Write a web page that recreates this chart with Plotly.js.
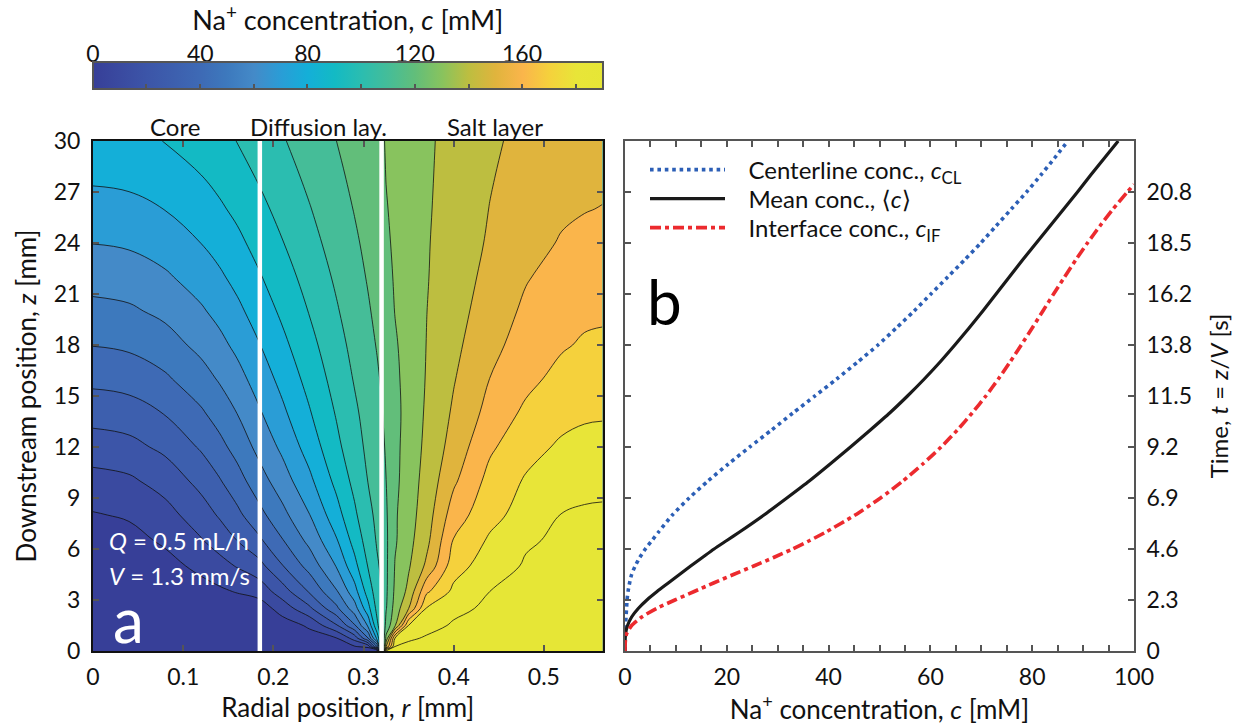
<!DOCTYPE html>
<html><head><meta charset="utf-8">
<script src="https://cdn.plot.ly/plotly-3.0.1.min.js"></script>
<style>html,body{margin:0;padding:0;background:#fff;} #chart{width:1248px;height:725px;}</style>
</head><body><div id="chart"></div>
<script>
// ---------- Panel a: concentration field c(r, z) [mM] ----------
const rPos = [0, 0.04, 0.08, 0.12, 0.14, 0.16, 0.185, 0.21, 0.24, 0.27, 0.29, 0.305, 0.315, 0.32, 0.325, 0.335, 0.35, 0.37, 0.40, 0.44, 0.48, 0.52, 0.545, 0.565];
const zPos = [0, 0.25, 0.75, 1.5, 2.5, 3.5, 5, 6.5, 8, 10, 12, 14, 16, 18, 20, 22, 24, 26, 28, 30];
const cGrid = [
  [0,0,0,0,0,0,0, 0,0,0,0,0,0, 96, 194,194,194,194,194,194,194,194,194,194],
  [0,0,0,0,0,0,0, 2.1,4.6,7.1,8.8,12.4,50, 99.5, 150,190.5,192.5,193.3,193.7,194,194,194,194,194],
  [0,0,0,0.05,0.06,0.08,0.1, 2.9,6.2,9.5,23.9,49.4,83.5, 103, 132.5,180.9,188.5,191,191.8,192.7,193.3,193.8,194,194],
  [0.1,0.14,0.27,0.48,0.62,0.77,1.0, 5.3,11.4,28.8,48.7,71.6,98, 106, 123.1,138.9,180.3,187,191,192.3,193.1,193.75,193.95,194],
  [0.3,0.5,1.2,2.3,3.0,3.8,5, 14.1,27.9,47.7,65.5,86.6,102.7, 108.5, 119.3,134.2,149.9,180.8,188,191.5,192.6,193.4,193.65,193.7],
  [0.65,1.27,3.15,6.27,8.3,10.64,14, 25.3,41,59,76.1,94.4,105.2, 110, 118.3,132,142.5,168.3,182.3,190,191.9,193,193.3,193.4],
  [2,3.17,6.68,12.5,16.3,20.7,27, 39.5,53.7,70.6,86.9,100.5,108.8, 111.5, 118.1,130.6,138.9,152,175.8,185.2,191,192.2,192.7,192.9],
  [5.3,6.85,11.5,19.3,24.3,30.1,38.5, 49.4,62.7,79.1,93.6,104.4,110.9, 112.8, 118.2,128.9,137,147.4,170.7,181.4,188.9,191.5,192.1,192.3],
  [9.3,11.07,16.4,25.3,31.0,37.6,47.2, 57.1,69.7,86.1,98.2,107.4,112.1, 114, 118.7,128.8,135.9,145.4,165,176.9,184,190.3,191.2,191.5],
  [16.5,18.3,23.9,33.1,39.1,46.0,56, 65.3,77.7,92.7,102.7,110.2,114.1, 116, 119.9,127.7,135.1,143.6,158.4,173.2,181,185.7,187.3,187.6],
  [25.2,27.0,32.3,41.2,47.0,53.6,63.2, 72.1,84.3,97.6,106,112.1,115.9, 117.8, 121,127.4,134.4,142.2,154,168.4,176.6,181.5,182.9,183.2],
  [33.9,35.5,40.5,48.7,54.1,60.2,69.1, 78,89.2,100.8,108.3,113.6,117, 119.4, 122.1,127,133.9,141.3,151.4,163.3,172,177,178.6,179],
  [42.5,44.0,48.5,56.0,60.9,66.5,74.6, 83,93.3,103.8,110.7,115.7,118.9, 120.8, 123.2,127.9,133.8,140.6,149.4,160.1,167.3,173.1,174.9,175.3],
  [50.3,51.7,55.8,62.7,67.2,72.4,79.8, 87.6,97,106.5,112.8,117.4,120.5, 122.1, 124.4,128.9,134.1,140.2,147.7,157,164.4,169,171.1,171.7],
  [57.2,58.5,62.3,68.8,72.9,77.8,84.7, 91.9,100.5,109.1,114.8,119.1,122, 123.4, 125.8,130.3,134.4,139.9,146.4,154.5,161.8,166.5,168.1,168.5],
  [63.8,65.0,68.6,74.5,78.4,82.9,89.3, 95.8,103.7,111.5,116.8,120.7,123.3, 124.6, 127.1,131,134.5,139.5,145.4,152.6,159.3,163.6,165.4,165.8],
  [70.2,71.3,74.6,80.1,83.6,87.7,93.6, 99.6,106.7,113.9,118.6,122.2,124.6, 125.8, 128.4,131.6,134.9,139.3,144.6,151.1,157,160.7,162.6,163],
  [76.2,77.2,80.2,85.2,88.5,92.2,97.6, 103,109.5,116,120.4,123.6,125.8, 126.9, 129.5,131.8,134.9,139,144,150.2,155.2,158.7,159.6,160.3],
  [81.8,82.7,85.4,90.0,93.0,96.4,101.3, 106.2,112.2,118.1,122.1,125,127, 128, 130.2,132.1,134.9,138.8,143.4,149.3,153.8,156.7,157.7,158.1],
  [86.9,87.7,90.2,94.4,97.1,100.2,104.7, 109.2,114.6,120,123.6,126.3,128.1, 129, 130.5,132.3,135,138.6,143,148.4,152.6,155,155.8,156]
];
const levelStart = 10, levelEnd = 190, levelStep = 10;
const colorMax = 190;
// colour of each 10 mM band (band k = 10k .. 10k+10)
const bandColors = ['#373f98','#3a4aa0','#3c55a8','#3d5fae','#3e6ab5','#3d79bd','#448ac8','#2a9dd6','#14afd8','#13bac4',
                    '#2bbdb0','#45bd98','#62be7a','#88c35e','#bdbe40','#e0b43d','#fab54b','#f5d13c','#e8e538','#e6e636'];
const layerBounds = [0.185, 0.32];
const layerNames = ['Core', 'Diffusion lay.', 'Salt layer'];
const layerLabelPos = [0.091, 0.250, 0.446];

// ---------- Panel b: concentrations vs downstream position ----------
const zLine = [0,0.5,1,1.5,2,2.5,3,3.5,4,4.5,5,5.5,6,6.5,7,8,9,10,11,12,13,14,15,16,17,18,19,20,21,22,23,24,25,26,27,28,29,30];
const cCenterline = [0,0,0.05,0.1,0.2,0.3,0.4,0.6,0.9,1.3,2.0,2.9,4.0,5.3,6.6,9.3,12.6,16.3,20.3,24.5,28.8,33.0,37.3,41.6,45.7,49.7,53.3,56.8,60.1,63.4,66.7,69.9,72.9,75.9,78.9,81.7,84.4,87.0];
const cMean = [0,0.02,0.1,0.5,1.3,2.6,4.3,6.3,8.5,10.7,12.9,15.2,17.5,20.0,22.5,27.3,31.8,36.2,40.3,44.3,48.2,52.0,55.5,58.8,61.9,64.8,67.6,70.3,72.9,75.5,78.1,80.8,83.5,86.2,88.9,91.5,94.2,96.9];
const zInterface = [0,0.5,1,1.5,2,2.5,3,3.5,4,4.5,5,5.5,6,6.5,7,8,9,10,11,12,13,14,15,16,17,18,19,20,21,22,23,24,25,26,27,27.45];
const cInterface = [0,0.05,0.3,1.3,3.3,6.2,9.8,13.6,17.4,21.3,25.3,29.2,32.9,36.3,39.5,45.2,50.2,54.6,58.5,62.1,65.3,68.2,70.9,73.35,75.65,77.85,80.0,82.1,84.2,86.35,88.55,90.85,93.3,95.9,98.7,100];

// ---------- tick labels ----------
const aXTicks = [0,0.1,0.2,0.3,0.4,0.5];
const aXTickText = ['0','0.1','0.2','0.3','0.4','0.5'];
const zTicks = [0,3,6,9,12,15,18,21,24,27,30];
const zTickText = ['0','3','6','9','12','15','18','21','24','27','30'];
const bXTicks = [0,20,40,60,80,100];
const bXTickText = ['0','20','40','60','80','100'];
const tTicks = [0,3,6,9,12,15,18,21,24,27];
const tTickText = ['0','2.3','4.6','6.9','9.2','11.5','13.8','16.2','18.5','20.8'];
const cbTicks = [0,40,80,120,160];

// ---------- geometry ----------
const W = 1248, H = 725, mL = 93, mR = 114, mT = 0, mB = 74;
const pw = W - mL - mR, ph = H - mT - mB;
const px2x = p => (p - mL) / pw;
const py2y = p => (H - mB - p) / ph;
const plotTop = 141, aRight = 602.5, bLeft = 625;
const yDom = [0, py2y(plotTop)];

const colorscale = bandColors.map((c, k) => [k / (bandColors.length - 1), c]);
const FONT = 'Lato, "Open Sans", "DejaVu Sans", sans-serif';
const FS = 23, FT = 26, FA = 24;
const NB = '\u00a0\u00a0\u00a0';

const traces = [
  { type: 'heatmap', x: rPos, y: zPos, z: cGrid, colorscale: colorscale, zmin: 0, zmax: colorMax,
    xaxis: 'x', yaxis: 'y', hoverinfo: 'skip', showscale: true,
    colorbar: { orientation: 'h', x: px2x((mL + aRight) / 2), xanchor: 'center', xref: 'paper',
      len: (aRight - mL) / pw, lenmode: 'fraction', thickness: 27, thicknessmode: 'pixels',
      y: py2y(97), yanchor: 'bottom', yref: 'paper', xpad: 0, ypad: 0,
      outlinewidth: 2, outlinecolor: '#555', ticks: 'inside', ticklen: 6, tickwidth: 2, tickcolor: '#555',
      tick0: 0, dtick: 20, showticklabels: false } },
  { type: 'contour', x: rPos, y: zPos, z: cGrid, colorscale: colorscale, showscale: false,
    contours: { start: levelStart, end: levelEnd, size: levelStep, coloring: 'fill' },
    line: { color: '#111', width: 0.8, smoothing: 1.1 }, xaxis: 'x', yaxis: 'y', hoverinfo: 'skip' },
  { type: 'scatter', mode: 'lines', x: cCenterline, y: zLine, xaxis: 'x2', yaxis: 'y2', cliponaxis: false,
    legend: 'legend', name: NB + 'Centerline conc., <i>c</i><sub>CL</sub>',
    line: { color: '#2c5fb6', width: 3.6, dash: '3.6px,3.8px', shape: 'spline', smoothing: 0.6 } },
  { type: 'scatter', mode: 'lines', x: cMean, y: zLine, xaxis: 'x2', yaxis: 'y2', cliponaxis: false,
    legend: 'legend2', name: NB + 'Mean conc., \u27E8<i>c</i>\u27E9',
    line: { color: '#1a1a1a', width: 3.2, shape: 'spline', smoothing: 0.6 } },
  { type: 'scatter', mode: 'lines', x: cInterface, y: zInterface, xaxis: 'x2', yaxis: 'y2', cliponaxis: false,
    legend: 'legend3', name: NB + 'Interface conc., <i>c</i><sub>IF</sub>',
    line: { color: '#ec2a2e', width: 3.6, dash: '11px,4px,4px,4px', shape: 'spline', smoothing: 0.6 } },
  { type: 'scatter', mode: 'markers', x: [], y: [], xaxis: 'x3', yaxis: 'y3', showlegend: false, hoverinfo: 'skip' }
];

const axCommon = { ticks: 'inside', ticklen: 6, tickwidth: 2, showline: true, mirror: 'ticks',
  showgrid: false, zeroline: false, fixedrange: true, tickfont: { size: FS, color: '#111' } };

const legendBase = { x: px2x(645), xanchor: 'left', yanchor: 'middle', bgcolor: 'rgba(0,0,0,0)',
  borderwidth: 0, itemwidth: 75, font: { size: FA, color: '#111' } };

const layout = {
  width: W, height: H, margin: { l: mL, r: mR, t: mT, b: mB }, paper_bgcolor: '#fff', plot_bgcolor: '#fff',
  font: { family: FONT, size: FS, color: '#111' }, showlegend: true,
  xaxis: Object.assign({}, axCommon, { domain: [0, px2x(aRight)], range: [0, 0.565], anchor: 'y',
    tickvals: aXTicks, ticktext: aXTickText, linecolor: '#111', linewidth: 2, tickcolor: '#555', ticklabelstandoff: 4,
    title: { text: 'Radial position, <i>r</i> [mm]', standoff: 10, font: { size: FT } } }),
  yaxis: Object.assign({}, axCommon, { domain: yDom, range: [0, 30], anchor: 'x',
    tickvals: zTicks, ticktext: zTickText, linecolor: '#111', linewidth: 2, tickcolor: '#555', ticklabelstandoff: 6,
    title: { text: 'Downstream position, <i>z</i> [mm]', standoff: 10, font: { size: FT } } }),
  xaxis2: Object.assign({}, axCommon, { domain: [px2x(bLeft), 1], range: [0, 100], anchor: 'y2',
    tickvals: bXTicks, ticktext: bXTickText, linecolor: '#555', linewidth: 2, tickcolor: '#555', ticklabelstandoff: 4,
    minor: { dtick: 5, tick0: 0, ticks: 'inside', ticklen: 6, tickwidth: 2, tickcolor: '#555', showgrid: false },
    title: { text: 'Na<sup>+</sup> concentration, <i>c</i> [mM]', standoff: 10, font: { size: FT } } }),
  yaxis2: Object.assign({}, axCommon, { domain: yDom, range: [0, 30], anchor: 'x2', side: 'right',
    tickvals: tTicks, ticktext: tTickText, linecolor: '#555', linewidth: 2, tickcolor: '#555', ticklabelstandoff: 6,
    title: { text: 'Time, <i>t</i> = <i>z</i>/<i>V</i> [s]', standoff: 20, font: { size: FA } } }),
  xaxis3: { domain: [0, px2x(aRight)], anchor: 'y3', side: 'top', range: [0, colorMax], tickvals: cbTicks,
    ticks: '', showline: false, showgrid: false, zeroline: false, fixedrange: true, ticklabelstandoff: 2,
    tickfont: { size: FS, color: '#111' },
    title: { text: 'Na<sup>+</sup> concentration, <i>c</i> [mM]', standoff: 11, font: { size: 27 } } },
  yaxis3: { domain: [py2y(97), py2y(70)], anchor: 'x3', visible: false, range: [0, 1], fixedrange: true },
  legend: Object.assign({}, legendBase, { y: py2y(170) }),
  legend2: Object.assign({}, legendBase, { y: py2y(199) }),
  legend3: Object.assign({}, legendBase, { y: py2y(228) }),
  shapes: layerBounds.map(b => ({ type: 'line', xref: 'x', yref: 'y', x0: b, x1: b, y0: 0, y1: 30,
    line: { color: '#fff', width: 4.5 }, layer: 'above' })),
  annotations: [
    ...layerNames.map((t, i) => ({ text: t, xref: 'x', yref: 'paper', x: layerLabelPos[i], y: py2y(127),
      xanchor: 'center', yanchor: 'middle', showarrow: false, font: { size: FA, color: '#111' } })),
    { text: '<i>Q</i> = 0.5 mL/h', xref: 'x', yref: 'y', x: 0.015, y: 6.5, xanchor: 'left', yanchor: 'middle',
      showarrow: false, font: { size: FA, color: '#fff' } },
    { text: '<i>V</i> = 1.3 mm/s', xref: 'x', yref: 'y', x: 0.015, y: 4.45, xanchor: 'left', yanchor: 'middle',
      showarrow: false, font: { size: FA, color: '#fff' } },
    { text: 'a', xref: 'x', yref: 'y', x: 0.039, y: 1.9, xanchor: 'center', yanchor: 'middle',
      showarrow: false, font: { size: 62, color: '#fff' } },
    { text: 'b', xref: 'x2', yref: 'y2', x: 7.8, y: 20.6, xanchor: 'center', yanchor: 'middle',
      showarrow: false, font: { size: 62, color: '#000' } }
  ]
};

Plotly.newPlot('chart', traces, layout, { displayModeBar: false, staticPlot: true });
</script></body></html>
